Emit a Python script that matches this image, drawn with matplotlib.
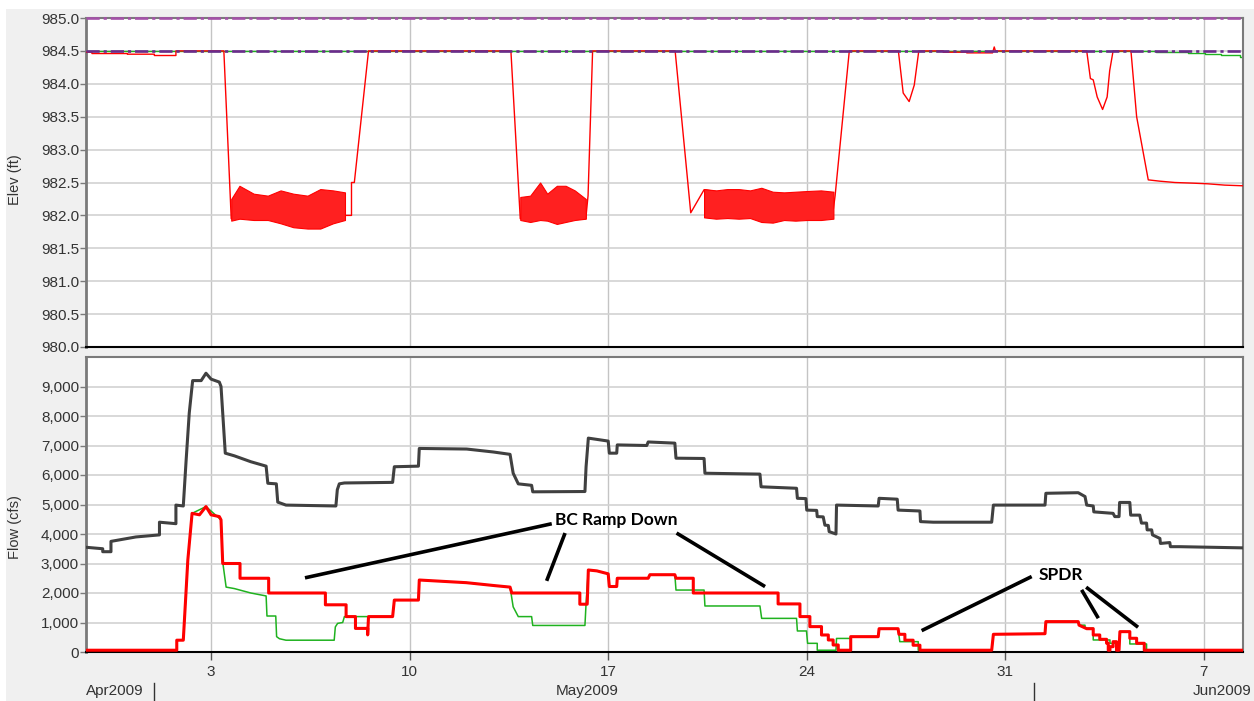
import numpy as np
import matplotlib
matplotlib.use('Agg')
import matplotlib.pyplot as plt
import matplotlib.dates as mdates
import matplotlib.transforms as mtransforms
from matplotlib.patches import Rectangle
from matplotlib.ticker import FuncFormatter
from datetime import datetime

# times are "day of May 2009" (1.0 = May 1 00:00, 32.0 = Jun 1 00:00)
T_START = -1.41
T_END = 39.38

# ---- reservoir elevation (ft) ----
elev_t = [
    -1.41, -1.2, -1.2, 0.05, 0.05, 1.0, 1.0, 1.76, 1.76, 3.45,
    3.71, 7.72, 7.95, 7.95, 8.05, 8.55, 13.57, 13.9, 16.21, 16.29,
    16.45, 19.36, 19.91, 20.38, 24.94, 25.0, 25.5, 27.23, 27.4, 27.61,
    27.79, 27.95, 28.81, 28.81, 29.64, 29.64, 30.55, 30.61, 30.65, 33.87,
    34.0, 34.1, 34.24, 34.43, 34.59, 34.68, 34.8, 35.43, 35.63, 36.04,
    36.45, 36.98, 37.62, 38.14, 38.74, 39.38]
elev = [
    984.48, 984.48, 984.46, 984.46, 984.45, 984.45, 984.43, 984.43, 984.5, 984.5,
    981.95, 982.0, 982.0, 982.5, 982.5, 984.5, 984.5, 981.95, 981.95, 982.3,
    984.5, 984.5, 982.04, 982.39, 982.1, 982.3, 984.5, 984.5, 983.86, 983.73,
    983.98, 984.5, 984.5, 984.48, 984.48, 984.47, 984.47, 984.56, 984.5, 984.5,
    984.08, 984.06, 983.8, 983.61, 983.8, 984.2, 984.5, 984.5, 983.5, 982.54,
    982.52, 982.5, 982.49, 982.48, 982.46, 982.45]

# oscillation envelopes while the pool is drawn down
draw1_t = [3.71, 4.0, 4.5, 5.0, 5.45, 5.9, 6.4, 6.85, 7.3, 7.72]
draw1_hi = [982.25, 982.45, 982.33, 982.3, 982.38, 982.33, 982.3, 982.4, 982.38, 982.35]
draw1_lo = [981.92, 981.95, 981.93, 981.93, 981.88, 981.82, 981.8, 981.8, 981.88, 981.93]
draw2_t = [13.9, 14.25, 14.6, 14.85, 15.19, 15.5, 15.82, 16.21]
draw2_hi = [982.28, 982.3, 982.5, 982.33, 982.45, 982.45, 982.38, 982.25]
draw2_lo = [981.93, 981.9, 981.93, 981.92, 981.87, 981.9, 981.93, 981.95]
draw3_t = [20.38, 20.8, 21.2, 21.6, 22.0, 22.4, 22.8, 23.2, 23.6, 24.0, 24.5, 24.94]
draw3_hi = [982.4, 982.38, 982.4, 982.4, 982.38, 982.42, 982.36, 982.35, 982.36, 982.37, 982.38, 982.36]
draw3_lo = [981.97, 981.95, 981.96, 981.95, 981.96, 981.9, 981.89, 981.93, 981.92, 981.93, 981.93, 981.95]

target_t = [-1.41, 36.33, 36.33, 37.45, 37.45, 38.04, 38.04, 38.62, 38.62, 39.27, 39.27, 39.38]
target = [984.5, 984.5, 984.485, 984.485, 984.47, 984.47, 984.45, 984.45, 984.435, 984.435, 984.41, 984.41]

guide_levels = [985.0, 984.5]
guide_colors = ['#a451a8', '#6a2b8c']

# ---- flows (cfs) ----
inflow_t = [
    -1.41, -0.82, -0.82, -0.53, -0.53, 0.35, 1.18, 1.18, 1.76, 1.76,
    2.02, 2.12, 2.23, 2.35, 2.65, 2.82, 3.0, 3.29, 3.35, 3.50,
    3.82, 4.4, 4.94, 5.0, 5.30, 5.35, 5.64, 7.40, 7.45, 7.52,
    7.70, 9.40, 9.46, 10.31, 10.34, 12.01, 12.95, 13.54, 13.65, 13.83,
    14.30, 14.34, 16.18, 16.22, 16.30, 17.0, 17.04, 17.30, 17.32, 18.36,
    18.41, 19.35, 19.39, 20.38, 20.41, 22.35, 22.39, 23.64, 23.67, 23.97,
    24.0, 24.35, 24.37, 24.58, 24.64, 24.76, 24.79, 25.03, 25.05, 26.52,
    26.55, 27.19, 27.22, 27.99, 28.01, 28.46, 30.52, 30.58, 32.40, 32.43,
    33.57, 33.81, 33.87, 34.10, 34.12, 34.80, 34.86, 35.01, 35.03, 35.39,
    35.42, 35.74, 35.80, 35.98, 36.0, 36.16, 36.19, 36.45, 36.47, 36.80,
    36.82, 37.15, 39.38]
inflow = [
    3550, 3500, 3400, 3400, 3750, 3900, 3970, 4400, 4350, 4980,
    4950, 6500, 8100, 9200, 9200, 9450, 9250, 9150, 9000, 6740,
    6650, 6450, 6300, 5720, 5700, 5080, 4980, 4950, 5500, 5700,
    5730, 5750, 6280, 6300, 6900, 6880, 6780, 6700, 6060, 5700,
    5650, 5430, 5440, 6280, 7250, 7150, 6740, 6740, 7020, 7000,
    7120, 7080, 6570, 6560, 6060, 6030, 5600, 5550, 5210, 5200,
    4810, 4800, 4590, 4580, 4300, 4290, 4080, 4000, 4980, 4950,
    5210, 5180, 4810, 4780, 4420, 4400, 4400, 4980, 4980, 5380,
    5400, 5270, 4980, 4950, 4750, 4700, 4590, 4590, 5070, 5070,
    4640, 4640, 4370, 4370, 4140, 4140, 3970, 3850, 3680, 3710,
    3570, 3570, 3530]

outflow_t = [
    -1.41, 1.79, 1.79, 2.02, 2.06, 2.18, 2.33, 2.59, 2.82, 3.0,
    3.29, 3.35, 3.41, 4.02, 4.02, 5.03, 5.03, 7.03, 7.03, 7.76,
    7.76, 8.09, 8.09, 8.52, 8.52, 8.55, 9.40, 9.46, 10.31, 10.34,
    12.0, 13.0, 13.54, 13.6, 16.0, 16.0, 16.26, 16.30, 16.6, 17.0,
    17.04, 17.30, 17.32, 18.41, 18.47, 19.35, 19.39, 20.0, 20.0, 22.99,
    22.99, 23.76, 23.76, 24.11, 24.11, 24.52, 24.52, 24.76, 24.76, 24.93,
    24.93, 25.11, 25.11, 25.55, 25.55, 26.52, 26.55, 27.22, 27.25, 27.46,
    27.46, 27.75, 27.75, 27.99, 27.99, 30.52, 30.58, 32.40, 32.43, 33.57,
    33.6, 33.87, 34.10, 34.10, 34.33, 34.33, 34.57, 34.57, 34.63, 34.63,
    34.69, 34.69, 34.80, 34.80, 34.92, 34.92, 35.01, 35.04, 35.39, 35.39,
    35.63, 35.63, 35.90, 35.90, 39.38]
outflow = [
    60, 60, 400, 400, 1080, 3120, 4700, 4650, 4930, 4650,
    4590, 4480, 3000, 3000, 2500, 2500, 2000, 2000, 1600, 1600,
    1200, 1200, 800, 800, 580, 1200, 1200, 1760, 1760, 2440,
    2350, 2250, 2200, 2000, 2000, 1620, 1620, 2780, 2750, 2650,
    2220, 2220, 2500, 2500, 2620, 2620, 2500, 2500, 2000, 2000,
    1630, 1630, 1200, 1200, 860, 860, 577, 577, 408, 408,
    238, 238, 60, 60, 520, 520, 790, 790, 600, 600,
    400, 400, 230, 230, 60, 60, 600, 620, 1030, 1030,
    910, 790, 790, 577, 577, 430, 430, 300, 300, 60,
    60, 180, 180, 350, 350, 60, 60, 690, 690, 465,
    465, 295, 295, 60, 60]

alt_t = [
    -1.41, 1.79, 1.79, 2.02, 2.06, 2.18, 2.33, 2.82, 3.35, 3.41,
    3.53, 3.82, 4.4, 4.94, 4.97, 5.28, 5.31, 5.41, 5.64, 7.34,
    7.38, 7.46, 7.64, 7.70, 9.40, 9.46, 10.31, 10.34, 12.0, 13.0,
    13.54, 13.65, 13.83, 14.30, 14.34, 16.18, 16.22, 16.30, 16.6, 17.0,
    17.04, 17.30, 17.32, 18.41, 18.47, 19.35, 19.39, 20.38, 20.41, 22.35,
    22.41, 23.64, 23.67, 23.99, 24.03, 24.37, 24.37, 25.03, 25.05, 25.55,
    25.55, 26.52, 26.55, 27.22, 27.28, 27.93, 27.93, 30.52, 30.58, 32.40,
    32.43, 33.57, 33.6, 33.81, 33.81, 34.10, 34.10, 34.69, 34.69, 34.92,
    34.92, 35.01, 35.04, 35.39, 35.39, 35.98, 35.98, 39.38]
alt_outflow = [
    60, 60, 400, 400, 1080, 3120, 4700, 4930, 4480, 3050,
    2200, 2150, 2000, 1900, 1220, 1220, 520, 450, 400, 400,
    850, 970, 1000, 1200, 1200, 1760, 1760, 2440, 2350, 2250,
    2200, 1530, 1200, 1200, 900, 900, 1650, 2780, 2750, 2650,
    2220, 2220, 2500, 2500, 2620, 2620, 2100, 2100, 1560, 1560,
    1140, 1140, 713, 713, 294, 294, 60, 60, 460, 460,
    520, 520, 790, 790, 350, 350, 60, 60, 600, 620,
    1030, 1030, 910, 910, 805, 805, 408, 408, 295, 295,
    60, 60, 690, 690, 272, 272, 60, 60]

# callouts: text position and leader lines, (day, cfs)
bc_text = (17.28, 4484)
bc_leaders = [((6.31, 2514), (15.01, 4348)),
              ((15.48, 4032), (14.83, 2412)),
              ((19.41, 4032), (22.53, 2218))]
spdr_text = (32.96, 2615)
spdr_leaders = [((31.93, 2558), (28.05, 724)),
                ((33.69, 2106), (34.28, 1145)),
                ((33.85, 2198), (35.68, 839))]

month_starts = [1.0, 32.0]

day0 = mdates.date2num(datetime(2009, 4, 30))


def d(t):
    return day0 + np.asarray(t, dtype=float)


RED = '#ff0000'
GREEN = '#1fb21f'
GRAY = '#404040'
TXT = '#333333'
SPINE = '#7a7a7a'

plt.rcParams['font.family'] = ['Liberation Sans', 'DejaVu Sans']

W, H = 1254, 701
fig = plt.figure(figsize=(W / 100, H / 100), dpi=100)
fig.patch.set_facecolor('white')
fig.add_artist(Rectangle((6 / W, 0), 1, 1 - 9 / H, transform=fig.transFigure,
                         facecolor='#f0f0f0', edgecolor='none', zorder=-10))

ax1 = fig.add_axes([86 / W, 1 - 347 / H, 1157 / W, 329 / H])
ax2 = fig.add_axes([86 / W, 1 - 652 / H, 1157 / W, 295 / H], sharex=ax1)

for ax in (ax1, ax2):
    ax.set_facecolor('white')
    ax.set_axisbelow(True)
    ax.yaxis.grid(True, color='#d2d2d2', lw=1.2)
    ax.xaxis.grid(True, color='#c4c4c4', lw=1.0)
    ax.spines['left'].set_color(SPINE)
    ax.spines['left'].set_linewidth(2)
    for s in ('top', 'right'):
        ax.spines[s].set_color(SPINE)
        ax.spines[s].set_linewidth(1.5)
    ax.spines['bottom'].set_color('black')
    ax.spines['bottom'].set_linewidth(1.5)
    ax.tick_params(axis='y', length=4, width=1, color=SPINE, labelsize=11,
                   labelcolor=TXT, pad=1)

# ---- elevation panel ----
ax1.plot(d(target_t), target, color=GREEN, lw=1, zorder=2)
ax1.plot(d(elev_t), elev, color=RED, lw=1, zorder=3)
for bt, bhi, blo in ((draw1_t, draw1_hi, draw1_lo),
                     (draw2_t, draw2_hi, draw2_lo),
                     (draw3_t, draw3_hi, draw3_lo)):
    ax1.fill_between(d(bt), blo, bhi, facecolor='#ff2020', edgecolor=RED,
                     lw=0.8, zorder=4)
for lev, c in zip(guide_levels, guide_colors):
    ax1.axhline(lev, color=c, lw=1.9, dashes=(5, 1.5, 1.2, 1.5), zorder=5,
                clip_on=False)

ax1.set_ylim(980, 985)
ax1.set_yticks(np.arange(980, 985.01, 0.5))
ax1.yaxis.set_major_formatter(FuncFormatter(lambda v, p: '%.1f' % v))
ax1.set_ylabel('Elev (ft)', fontsize=10.5, color=TXT)
ax1.yaxis.set_label_coords(-0.0556, 0.51)
ax1.tick_params(axis='x', length=0, labelbottom=False)

# ---- flow panel ----
ax2.plot(d(inflow_t), inflow, color=GRAY, lw=2.2, zorder=3)
ax2.plot(d(alt_t), alt_outflow, color=GREEN, lw=1.1, zorder=4)
ax2.plot(d(outflow_t), outflow, color=RED, lw=2.2, zorder=5)

ax2.set_ylim(0, 10000)
ax2.set_yticks(np.arange(0, 9001, 1000))
ax2.yaxis.set_major_formatter(FuncFormatter(lambda v, p: '{:,.0f}'.format(v)))
ax2.set_ylabel('Flow (cfs)', fontsize=10.5, color=TXT)
ax2.yaxis.set_label_coords(-0.0556, 0.424)

ax2.set_xlim(d(T_START), d(T_END))
ax2.xaxis.set_major_locator(mdates.WeekdayLocator(byweekday=mdates.SU))
ax2.xaxis.set_major_formatter(FuncFormatter(lambda v, p: str(mdates.num2date(v).day)))
ax2.tick_params(axis='x', length=6, width=1, color='#555555', labelsize=11,
                labelcolor=TXT, pad=3)

# month row under the day labels
trans = mtransforms.blended_transform_factory(ax2.transData, ax2.transAxes)
ax2.text(0.0, -0.132, 'Apr2009', transform=ax2.transAxes, ha='left', va='center',
         fontsize=11, color=TXT)
ax2.text(d(16.25), -0.132, 'May2009', transform=trans, ha='center', va='center',
         fontsize=11, color=TXT)
ax2.text(1.007, -0.132, 'Jun2009', transform=ax2.transAxes, ha='right', va='center',
         fontsize=11, color=TXT)
for m in month_starts:
    ax2.plot([d(m), d(m)], [-0.105, -0.17], transform=trans, color=TXT, lw=1,
             clip_on=False)

# callouts
for (t0, q0), (t1, q1) in bc_leaders + spdr_leaders:
    ax2.plot([d(t0), d(t1)], [q0, q1], color='black', lw=2.6,
             solid_capstyle='butt', zorder=6)
ax2.text(d(bc_text[0]), bc_text[1], 'BC Ramp Down', ha='center', va='center',
         fontsize=12.5, fontweight='bold', family=['Lato', 'DejaVu Sans'], zorder=7)
ax2.text(d(spdr_text[0]), spdr_text[1], 'SPDR', ha='center', va='center',
         fontsize=12.5, fontweight='bold', family=['Lato', 'DejaVu Sans'], zorder=7)

fig.savefig('out.png', dpi=100, facecolor=fig.get_facecolor())
